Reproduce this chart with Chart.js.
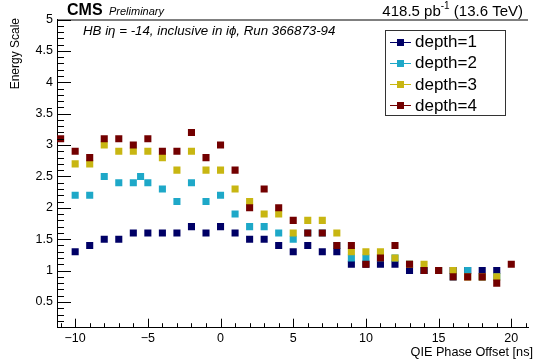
<!DOCTYPE html>
<html>
<head>
<meta charset="utf-8">
<script src="https://cdn.jsdelivr.net/npm/chart.js@4/dist/chart.umd.min.js"></script>
<style>
  html, body { margin: 0; padding: 0; background: #fff; overflow: hidden; }
  #wrap { width: 533px; height: 362px; position: relative; }
</style>
</head>
<body>
<div id="wrap"><canvas id="c" width="533" height="362"></canvas></div>
<script>
// QIE phase offsets [ns]
const phaseOffsets = [-11, -10, -9, -8, -7, -6, -5, -4, -3, -2, -1, 0, 1, 2, 3, 4,
                      5, 6, 7, 8, 9, 10, 11, 12, 13, 14, 15, 16, 17, 18, 19, 20];

// Energy scale per depth (null = no measurement at that offset)
const depth1 = [null, 1.3, 1.4, 1.5, 1.5, 1.6, 1.6, 1.6, 1.6, 1.7, 1.6, 1.7, 1.6, 1.5, 1.5, 1.4,
                1.3, 1.4, 1.3, 1.3, 1.1, 1.1, 1.1, 1.1, 1.0, 1.0, 1.0, 1.0, 1.0, 1.0, 1.0, null];
const depth2 = [null, 2.2, 2.2, 2.5, 2.4, 2.4, 2.4, 2.3, 2.1, 2.4, 2.1, 2.2, 1.9, 1.7, 1.7, 1.6,
                1.5, 1.6, 1.6, 1.4, 1.2, 1.2, 1.2, 1.2, 1.1, 1.0, 1.0, 0.9, 1.0, 0.9, 0.9, null];
const depth3 = [null, 2.7, 2.7, 3.0, 2.9, 2.9, 2.9, 2.8, 2.6, 2.9, 2.6, 2.6, 2.3, 2.1, 1.9, 1.9,
                1.6, 1.8, 1.8, 1.6, 1.3, 1.3, 1.3, 1.2, 1.1, 1.1, 1.0, 1.0, 0.9, 0.9, 0.9, null];
const depth4 = [3.1, 2.9, 2.8, 3.1, 3.1, 3.0, 3.1, 2.9, 2.9, 3.2, 2.8, 3.0, 2.6, 2.0, 2.3, 2.0,
                1.8, 1.6, 1.6, 1.4, 1.4, 1.1, 1.2, 1.4, 1.1, 1.0, 1.0, 0.9, 0.9, 0.9, 0.8, 1.1];

// additional half-step scan point for depth 2
const depth2ExtraOffsets = [-5.5];
const depth2ExtraValues = [2.5];

const seriesNames = ['depth=1', 'depth=2', 'depth=3', 'depth=4'];
const seriesColors = ['#000066', '#1ea8c8', '#c8b612', '#730000'];

const xTicks = [-10, -5, 0, 5, 10, 15, 20];
const yTicks = [0.5, 1, 1.5, 2, 2.5, 3, 3.5, 4, 4.5, 5];

const FONT = '"Liberation Sans", Arial, Helvetica, sans-serif';

function toPoints(xs, ys) {
  const pts = [];
  xs.forEach((x, i) => { if (ys[i] !== null && ys[i] !== undefined) pts.push({ x: x, y: ys[i] }); });
  return pts;
}

const seriesPoints = [
  toPoints(phaseOffsets, depth1),
  toPoints(phaseOffsets, depth2).concat(toPoints(depth2ExtraOffsets, depth2ExtraValues)),
  toPoints(phaseOffsets, depth3),
  toPoints(phaseOffsets, depth4)
];

const datasets = seriesPoints.map((pts, i) => ({
  label: seriesNames[i],
  data: pts,
  showLine: false,
  pointStyle: 'rect',
  pointRadius: 5,
  pointHoverRadius: 5,
  pointBorderWidth: 0,
  backgroundColor: seriesColors[i],
  borderColor: seriesColors[i],
  order: seriesNames.length - i   // higher depth drawn on top
}));

// ROOT-style inward ticks, frame top, texts and legend box
const decorations = {
  id: 'decorations',
  afterDraw(chart) {
    const ctx = chart.ctx;
    const a = chart.chartArea;
    const xs = chart.scales.x, ys = chart.scales.y;
    ctx.save();
    ctx.strokeStyle = '#000';
    ctx.lineWidth = 1;

    // top frame line
    ctx.beginPath();
    ctx.moveTo(a.left, a.top + 0.5);
    ctx.lineTo(a.right, a.top + 0.5);
    ctx.stroke();

    // x ticks: major every 5, minor every 1
    ctx.beginPath();
    for (let v = Math.ceil(xs.min); v <= xs.max; v++) {
      const px = Math.round(xs.getPixelForValue(v)) + 0.5;
      const len = (v % 5 === 0) ? 9 : 4.5;
      ctx.moveTo(px, a.bottom);
      ctx.lineTo(px, a.bottom - len);
    }
    // y ticks: major every 0.5, minor every 0.1
    for (let k = Math.ceil(ys.min * 10); k <= Math.round(ys.max * 10); k++) {
      const py = Math.round(ys.getPixelForValue(k / 10)) + 0.5;
      const len = (k % 5 === 0) ? 14 : 7;
      ctx.moveTo(a.left, py);
      ctx.lineTo(a.left + len, py);
    }
    ctx.stroke();

    ctx.fillStyle = '#000';
    ctx.textBaseline = 'alphabetic';

    // header
    ctx.textAlign = 'left';
    ctx.font = 'bold 16px ' + FONT;
    ctx.fillText('CMS', 67, 15);
    ctx.font = 'italic 11px ' + FONT;
    ctx.fillText('Preliminary', 109, 15);

    // luminosity label, right aligned
    const p1 = '418.5 pb', p3 = ' (13.6 TeV)';
    ctx.font = '10px ' + FONT;
    const w2 = ctx.measureText('-1').width;
    ctx.font = '15px ' + FONT;
    const w1 = ctx.measureText(p1).width, w3 = ctx.measureText(p3).width;
    let lx = 523 - (w1 + w2 + w3);
    ctx.fillText(p1, lx, 15.5);
    ctx.font = '10px ' + FONT;
    ctx.fillText('-1', lx + w1, 9);
    ctx.font = '15px ' + FONT;
    ctx.fillText(p3, lx + w1 + w2, 15.5);

    // run annotation
    ctx.font = 'italic 13.3px ' + FONT;
    ctx.fillText('HB i\u03B7 = -14, inclusive in i\u03D5, Run 366873-94', 83, 35);

    // axis titles
    ctx.font = '12.7px ' + FONT;
    ctx.textAlign = 'right';
    ctx.fillText('QIE Phase Offset [ns]', 533, 356);
    ctx.save();
    ctx.translate(19, 18);
    ctx.rotate(-Math.PI / 2);
    ctx.font = '12px ' + FONT;
    ctx.textAlign = 'right';
    ctx.fillText('Energy Scale', 0, 0);
    ctx.restore();

    // legend box
    ctx.fillStyle = '#fff';
    ctx.fillRect(385, 30, 120, 85);
    ctx.strokeStyle = '#333';
    ctx.strokeRect(385.5, 30.5, 120, 85);
    ctx.font = '17px ' + FONT;
    ctx.textAlign = 'left';
    ctx.textBaseline = 'middle';
    seriesNames.forEach((name, i) => {
      const cy = 41.5 + i * 21.2;
      ctx.strokeStyle = seriesColors[i];
      ctx.beginPath();
      ctx.moveTo(390, Math.round(cy) + 0.5);
      ctx.lineTo(411, Math.round(cy) + 0.5);
      ctx.stroke();
      ctx.fillStyle = seriesColors[i];
      ctx.fillRect(397, Math.round(cy) - 3, 7, 7);
      ctx.fillStyle = '#000';
      ctx.fillText(name, 415, cy + 1);
    });
    ctx.restore();
  }
};

new Chart(document.getElementById('c'), {
  type: 'scatter',
  data: { datasets: datasets },
  options: {
    responsive: false,
    animation: false,
    devicePixelRatio: 1,
    layout: { padding: { top: 19.5, right: 0, left: 0, bottom: 0 } },
    plugins: { legend: { display: false }, tooltip: { enabled: false } },
    scales: {
      x: {
        type: 'linear',
        min: -11.25,
        max: 21.15,
        afterFit(scale) { scale.height = 34.3; },
        afterBuildTicks(scale) { scale.ticks = xTicks.map(v => ({ value: v })); },
        grid: { display: false, drawTicks: false },
        border: { display: true, color: '#000', width: 1 },
        ticks: {
          padding: 3,
          color: '#000',
          font: { family: FONT, size: 12.5 },
          callback: v => (v < 0 ? '\u2212' + Math.abs(v) : String(v))
        }
      },
      y: {
        type: 'linear',
        min: 0.09,
        max: 5,
        afterFit(scale) { scale.width = 57; },
        afterBuildTicks(scale) { scale.ticks = yTicks.map(v => ({ value: v })); },
        grid: { display: false, drawTicks: false },
        border: { display: true, color: '#000', width: 1 },
        ticks: {
          padding: 4,
          color: '#000',
          font: { family: FONT, size: 12.5 },
          callback: v => String(Math.round(v * 10) / 10)
        }
      }
    }
  },
  plugins: [decorations]
});
</script>
</body>
</html>
